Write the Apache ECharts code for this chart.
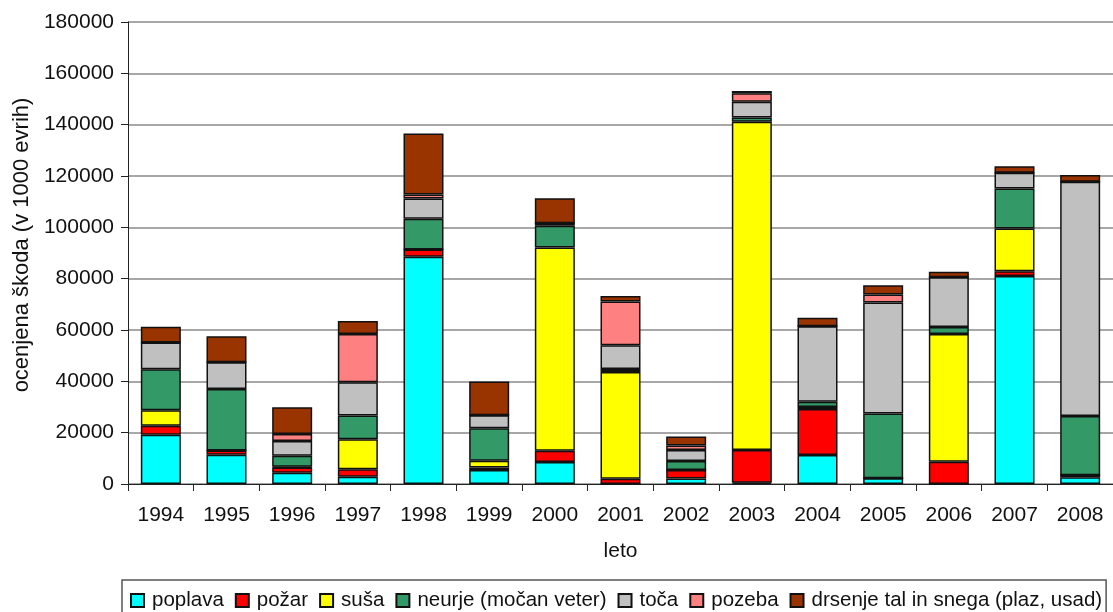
<!DOCTYPE html>
<html>
<head>
<meta charset="utf-8">
<script src="https://cdn.jsdelivr.net/npm/echarts@6/dist/echarts.min.js"></script>
<style>
html,body{margin:0;padding:0;background:#fff;}
#chart{width:1113px;height:612px;}
</style>
</head>
<body>
<div id="chart"></div>
<script>
// leta
var years=['1994','1995','1996','1997','1998','1999','2000','2001','2002','2003','2004','2005','2006','2007','2008'];
// ocenjena škoda po vrsti (v 1000 evrih)
var poplava=[19200,11400,4400,2800,88500,5500,8600,0,2100,500,11300,2200,0,81000,2600];
var pozar=[3500,1700,2000,2900,2900,900,4400,2000,3400,12700,17900,0,8700,1900,800];
var susa=[6000,0,300,11700,0,2700,79100,41600,0,127900,800,0,49700,16600,0];
var neurje=[16000,23900,4300,9300,11900,12600,8500,1200,3500,1700,2000,25300,2800,15600,23100];
var toca=[10400,10400,5800,12900,7900,5100,1000,9300,4200,6100,29500,43200,19400,6200,91300];
var pozeba=[0,0,2700,18800,1600,0,0,17000,1800,3300,0,3100,0,0,0];
var drsenje=[6200,10200,10400,5100,23800,13100,9700,2100,3500,900,3300,3600,2100,2500,2600];
var yTicks=[0,20000,40000,60000,80000,100000,120000,140000,160000,180000];

var seriesDefs=[
	{name:'poplava',data:poplava,color:'#00ffff'},
	{name:'požar',data:pozar,color:'#ff0000'},
	{name:'suša',data:susa,color:'#ffff00'},
	{name:'neurje (močan veter)',data:neurje,color:'#339966'},
	{name:'toča',data:toca,color:'#c0c0c0'},
	{name:'pozeba',data:pozeba,color:'#ff8080'},
	{name:'drsenje tal in snega (plaz, usad)',data:drsenje,color:'#993300'}
];

var chart=echarts.init(document.getElementById('chart'),null,{renderer:'canvas'});
var font='"Liberation Sans", Arial, sans-serif';

var option={
	animation:false,
	textStyle:{fontFamily:font},
	grid:{left:128,right:0,top:22,bottom:128},
	legend:{
		left:122,
		top:580,
		padding:[10,4,10,8],
		borderColor:'#555',
		borderWidth:1.5,
		itemWidth:13,
		itemHeight:13,
		itemGap:11,
		icon:'rect',
		textStyle:{fontSize:20.5,color:'#111',fontFamily:font,padding:[0,0,0,3]},
		data:seriesDefs.map(function(s){return s.name;})
	},
	xAxis:{
		type:'category',
		data:years,
		name:'leto',
		nameLocation:'middle',
		nameGap:57,
		nameTextStyle:{fontSize:21,color:'#111'},
		axisLine:{lineStyle:{color:'#222',width:1}},
		axisTick:{show:true,length:7,lineStyle:{color:'#222'}},
		axisLabel:{fontSize:21,color:'#111',margin:21}
	},
	yAxis:{
		type:'value',
		min:yTicks[0],
		max:yTicks[yTicks.length-1],
		interval:yTicks[1]-yTicks[0],
		name:'ocenjena škoda (v 1000 evrih)',
		nameLocation:'middle',
		nameGap:95,
		nameTextStyle:{fontSize:22,color:'#111',padding:[0,0,0,16]},
		axisLine:{show:true,lineStyle:{color:'#222',width:1}},
		axisTick:{show:true,length:7,lineStyle:{color:'#222'}},
		axisLabel:{fontSize:21,color:'#111',margin:14,formatter:function(v){return String(v);}},
		splitLine:{lineStyle:{color:'#8a8a8a',width:1.5}}
	},
	series:seriesDefs.map(function(s){
		return {
			name:s.name,
			type:'bar',
			stack:'skoda',
			barWidth:40,
			data:s.data,
			itemStyle:{
				color:s.color,
				borderColor:'#111',
				borderWidth:1.5
			}
		};
	})
};
chart.setOption(option);
</script>
</body>
</html>
